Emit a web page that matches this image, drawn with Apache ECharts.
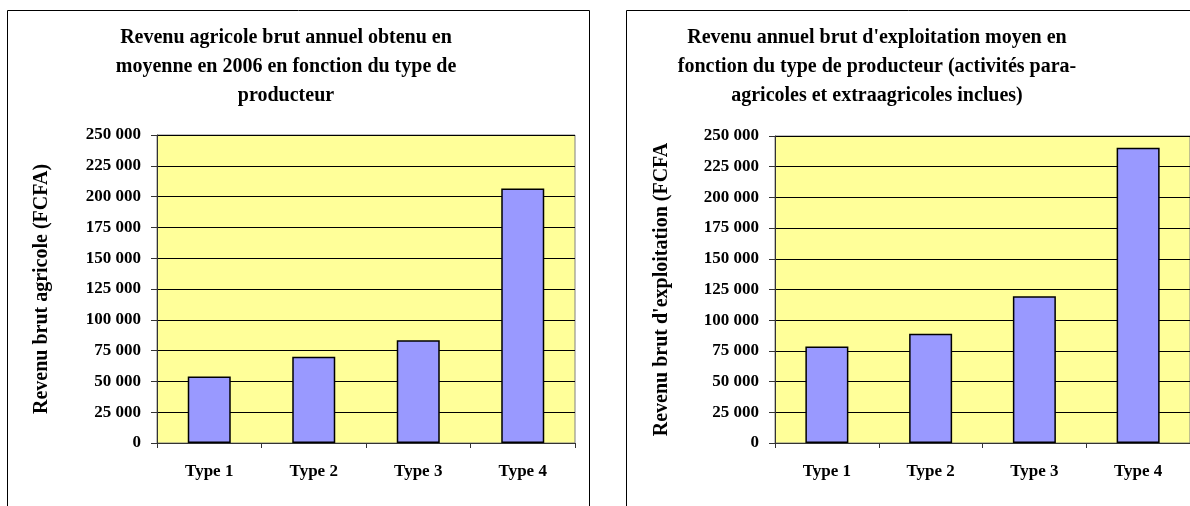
<!DOCTYPE html>
<html>
<head>
<meta charset="utf-8">
<script src="https://cdn.jsdelivr.net/npm/echarts@6/dist/echarts.min.js"></script>
<style>
  html, body { margin: 0; padding: 0; background: #fff; overflow: hidden; }
  #chart { width: 1190px; height: 506px; }
</style>
</head>
<body>
<div id="chart"></div>
<script>
// Producer types on the horizontal axis
const categories = ['Type 1', 'Type 2', 'Type 3', 'Type 4'];

// Average gross agricultural income in 2006 (FCFA)
const revenuAgricole = [54000, 70000, 83500, 206500];

// Average gross farm income incl. para- and extra-agricultural activities (FCFA)
const revenuExploitation = [78500, 89000, 119500, 240500];

// Value axis range and step
const yMin = 0;
const yMax = 250000;
const yStep = 25000;

const leftTitle = 'Revenu agricole brut annuel obtenu en\nmoyenne en 2006 en fonction du type de\nproducteur';
const rightTitle = "Revenu annuel brut d'exploitation moyen en\nfonction du type de producteur (activités para-\nagricoles et extraagricoles inclues)";
const leftAxisName = 'Revenu brut agricole (FCFA)';
const rightAxisName = "Revenu brut d'exploitation (FCFA";

const FONT = "'Liberation Serif', 'Times New Roman', serif";

function fmtThousands(v) {
  return String(v).replace(/\B(?=(\d{3})+(?!\d))/g, ' ');
}

function makeXAxis(gridIndex) {
  return {
    type: 'category',
    gridIndex: gridIndex,
    data: categories,
    boundaryGap: true,
    axisLine: { show: true, lineStyle: { color: '#333', width: 1 } },
    axisTick: { show: true, length: 5, inside: false, alignWithLabel: false, lineStyle: { color: '#333' } },
    axisLabel: { margin: 20, color: '#000', fontFamily: FONT, fontWeight: 'bold', fontSize: 17 },
    splitLine: { show: false }
  };
}

function makeYAxis(gridIndex, name, gap) {
  return {
    type: 'value',
    gridIndex: gridIndex,
    min: yMin,
    max: yMax,
    interval: yStep,
    name: name,
    nameLocation: 'middle',
    nameRotate: 90,
    nameGap: gap,
    nameTextStyle: { color: '#000', fontFamily: FONT, fontWeight: 'bold', fontSize: 20 },
    axisLine: { show: true, lineStyle: { color: '#333', width: 1 } },
    axisTick: { show: true, length: 6, inside: false, lineStyle: { color: '#333' } },
    axisLabel: {
      margin: 16, color: '#000', fontFamily: FONT, fontWeight: 'bold', fontSize: 17,
      formatter: fmtThousands
    },
    splitLine: { show: true, lineStyle: { color: '#000', width: 1 } }
  };
}

function makeSeries(index, values) {
  return {
    type: 'bar',
    xAxisIndex: index,
    yAxisIndex: index,
    data: values,
    barWidth: 43,
    itemStyle: { color: '#9999FF', borderColor: '#000', borderWidth: 1.5 },
    emphasis: { disabled: true },
    animation: false
  };
}

const chart = echarts.init(document.getElementById('chart'), null, { renderer: 'canvas' });

chart.setOption({
  backgroundColor: '#fff',
  animation: false,
  title: [
    {
      text: leftTitle, left: 281, top: 18, textAlign: 'center',
      textStyle: { fontFamily: FONT, fontWeight: 'bold', fontSize: 20, lineHeight: 29, color: '#000' }
    },
    {
      text: rightTitle, left: 872, top: 18, textAlign: 'center',
      textStyle: { fontFamily: FONT, fontWeight: 'bold', fontSize: 20, lineHeight: 29, color: '#000' }
    }
  ],
  graphic: [
    // chart frames
    { type: 'rect', shape: { x: 7.5, y: 10.5, width: 582, height: 520 }, style: { fill: null, stroke: '#000', lineWidth: 1 }, silent: true, z: -1 },
    { type: 'rect', shape: { x: 626.5, y: 10.5, width: 600, height: 520 }, style: { fill: null, stroke: '#000', lineWidth: 1 }, silent: true, z: -1 }
  ],
  grid: [
    { left: 157, top: 135, width: 418, height: 308, show: true, backgroundColor: '#FFFF99', borderColor: '#808080', borderWidth: 1 },
    { left: 775, top: 136, width: 419, height: 307, show: true, backgroundColor: '#FFFF99', borderColor: '#808080', borderWidth: 1 }
  ],
  xAxis: [makeXAxis(0), makeXAxis(1)],
  yAxis: [makeYAxis(0, leftAxisName, 105), makeYAxis(1, rightAxisName, 103)],
  series: [makeSeries(0, revenuAgricole), makeSeries(1, revenuExploitation)]
});
</script>
</body>
</html>
